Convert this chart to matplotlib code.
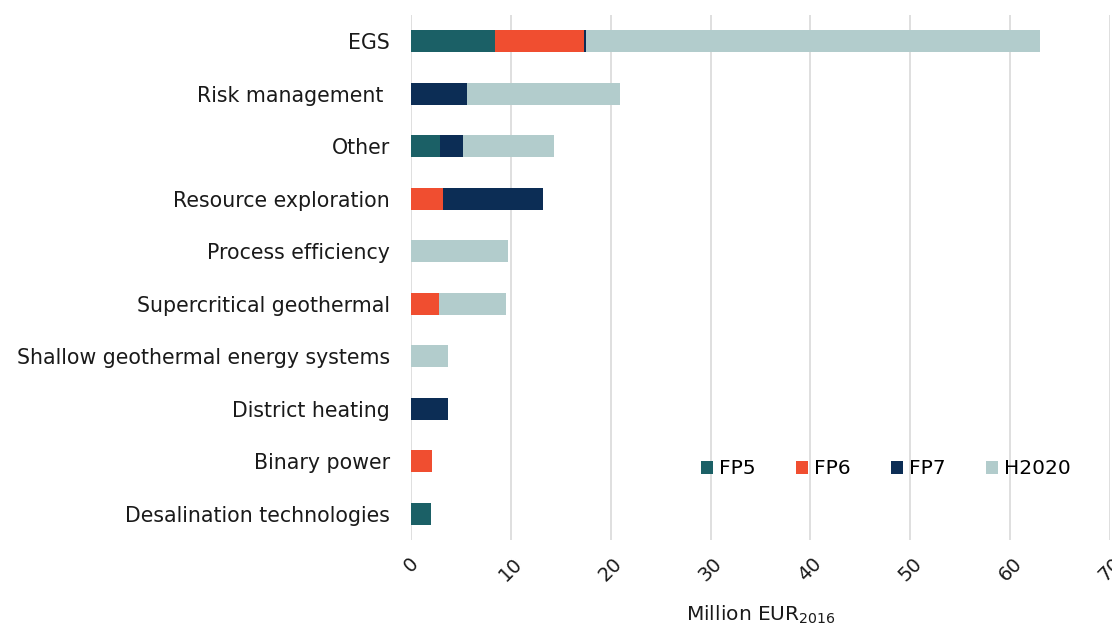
import numpy as np
import matplotlib
matplotlib.use("Agg")
import matplotlib.pyplot as plt

# data (million EUR 2016), top to bottom
categories = ["EGS", "Risk management ", "Other", "Resource exploration",
              "Process efficiency", "Supercritical geothermal",
              "Shallow geothermal energy systems", "District heating",
              "Binary power", "Desalination technologies"]
fp5 = [8.4, 0.0, 2.9, 0.0, 0.0, 0.0, 0.0, 0.0, 0.0, 2.0]
fp6 = [8.9, 0.0, 0.0, 3.2, 0.0, 2.8, 0.0, 0.0, 2.1, 0.0]
fp7 = [0.2, 5.6, 2.3, 10.0, 0.0, 0.0, 0.0, 3.7, 0.0, 0.0]
h2020 = [45.5, 15.3, 9.1, 0.0, 9.7, 6.7, 3.7, 0.0, 0.0, 0.0]

series = ["FP5", "FP6", "FP7", "H2020"]
colors = ["#1b6066", "#f04e30", "#0c2d55", "#b2cccc"]

fig = plt.figure(figsize=(11.12, 6.3), dpi=100)
ax = fig.add_axes([0.3696, 0.143, 0.6285, 0.833])

y = np.arange(len(categories))
left = np.zeros(len(categories))
for name, vals, c in zip(series, [fp5, fp6, fp7, h2020], colors):
    ax.barh(y, vals, left=left, height=0.42, color=c, label=name, zorder=3)
    left += np.array(vals)

ax.set_ylim(len(categories) - 0.5, -0.5)
ax.set_xlim(0, 70)
ax.set_yticks(y)
ax.set_yticklabels(categories, fontsize=14.8, color="#1a1a1a")
ax.set_xticks(np.arange(0, 71, 10))
ax.set_xticklabels([str(v) for v in range(0, 71, 10)], rotation=45,
                   fontsize=14, color="#1a1a1a")
ax.tick_params(length=0)
ax.tick_params(axis="y", pad=15)
ax.tick_params(axis="x", pad=10)
ax.grid(axis="x", color="#d9d9d9", linewidth=1.2, zorder=0)
for s in ax.spines.values():
    s.set_visible(False)

ax.set_xlabel(r"Million EUR$_{2016}$", fontsize=14.5, color="#1a1a1a", labelpad=14)

ax.legend(loc="lower right", bbox_to_anchor=(0.97, 0.083), ncol=4, frameon=False,
          fontsize=14.5, handlelength=0.6, handleheight=0.6, handletextpad=0.3,
          columnspacing=2.0)

fig.savefig("out.png", dpi=100)
